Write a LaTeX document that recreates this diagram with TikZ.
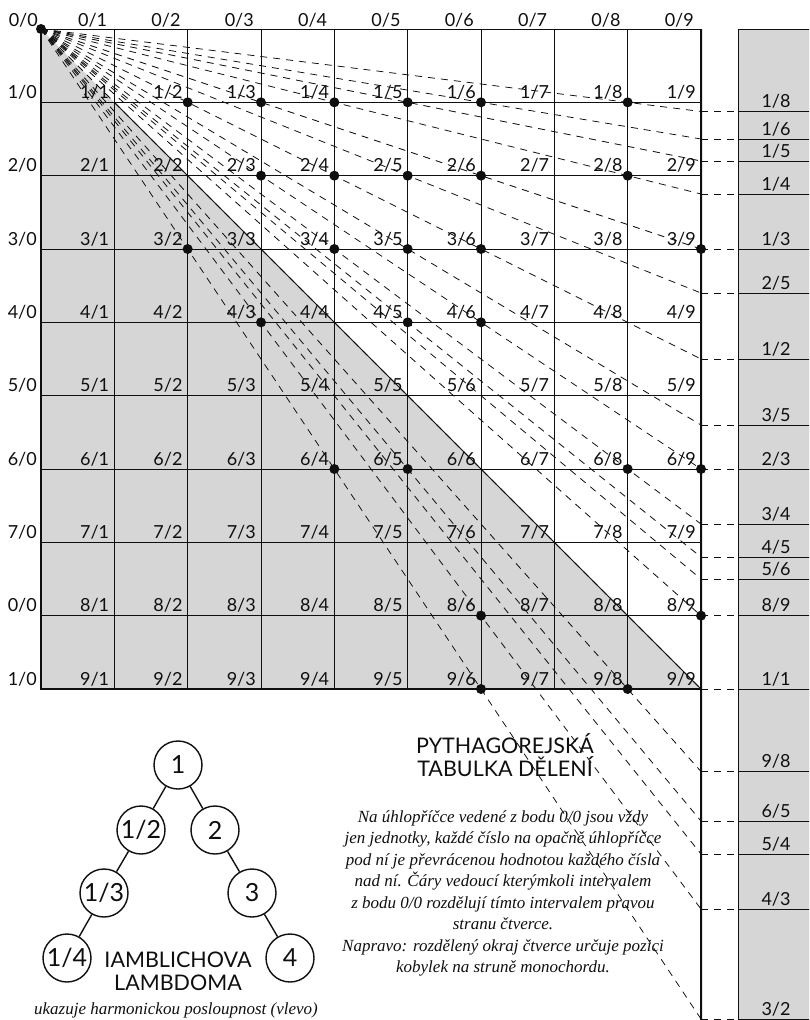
\documentclass[tikz,border=0pt]{standalone}
\usepackage{fontspec}
\setmainfont{Lato}
\newfontfamily\handfont{Liberation Serif}
\definecolor{stip}   {RGB}{214,214,214}
\definecolor{inkBlk} {RGB}{15,15,15}

\begin{document}
\begin{tikzpicture}[x=1pt, y=-1pt, inkBlk,
    GRID/.style={line width=1pt}, EDGEW/.style={line width=2pt},
    RAY/.style={dash pattern=on 7pt off 6pt, line width=0.8pt},
    LBL/.style={anchor=base east, inner sep=0pt, font=\fontsize{18}{18}\selectfont},
    PLBL/.style={anchor=base, inner sep=0pt, font=\fontsize{18}{18}\selectfont},
    NUM/.style={draw, circle, line width=1.4pt, minimum size=48pt, inner sep=0pt, font=\fontsize{25}{25}\selectfont},
    TTL/.style={anchor=base, inner sep=0pt, font=\fontsize{21.5}{24}\selectfont},
    BODY/.style={align=center, inner sep=0pt, font=\handfont\itshape\fontsize{17}{21.5}\selectfont}]
    \clip (0,0) rectangle (809,1020);
    % grid points
    \foreach \r in {0,...,9} \foreach \c in {0,...,9} \coordinate (g\r\c) at ({41+73.333*\c},{29+73.333*\r});
    \coordinate (O) at (g00); \coordinate (bot) at (701,1020);
    % shaded half and monochord strip
    \fill[stip] (g00) -- (g90) -- (g99) -- cycle;
    \fill[stip] (738,29) rectangle (815,1025); \draw[GRID] (815,29) -- (738,29) -- (738,1025);
    % table
    \foreach \i in {0,...,9} {\draw[GRID] (g0\i) -- (g9\i); \draw[GRID] (g\i0) -- (g\i9);}
    \draw[EDGEW] (g00) -- (g90) -- (g99); \draw[EDGEW] (g09) -- (bot);
    \draw[GRID] (g11) -- (g99);
    % rays from 0/0 and string divisions
    \foreach \n/\d in {1/8,1/6,1/5,1/4,1/3,2/5,1/2,3/5,2/3,3/4,4/5,5/6,8/9,1/1,9/8,6/5,5/4,4/3,3/2} {
        \coordinate (e\n\d) at (701,{29+660*\n/\d}); \coordinate (p\n\d) at (738,{29+660*\n/\d}); \coordinate (q\n\d) at (815,{29+660*\n/\d});
        \draw[RAY] (O) -- (e\n\d); \draw[RAY] (e\n\d) -- (p\n\d); \draw[GRID] (p\n\d) -- (q\n\d);
        \node[PLBL] (f\n\d) at (776,{25+660*\n/\d}) {\n/\d};
    }
    \foreach \p in {00,12,13,14,15,16,18,23,24,25,26,28,32,34,35,36,39,43,45,46,64,65,68,69,86,89,96,98} \fill (g\p) circle (5pt);
    % labels
    \node[LBL] (t0) at (38,26) {0/0};
    \foreach \c in {1,...,9} \node[LBL, xshift=-7pt, yshift=3pt] (t\c) at (g0\c) {0/\c};
    \foreach \r/\k in {1/1,2/2,3/3,4/4,5/5,6/6,7/7,8/0,9/1} \node[LBL, xshift=-4pt, yshift=4pt] (s\r) at (g\r0) {\k/0};
    \foreach \r in {1,...,9} \foreach \c in {1,...,9} \node[LBL, xshift=-5pt, yshift=4pt] (l\r\c) at (g\r\c) {\r/\c};
    % title and text
    \node[TTL] (ttl1) at (505,753) {PYTHAGOREJSKÁ};
    \node[TTL] (ttl2) at (505,776) {TABULKA DĚLENÍ};
    \node[BODY, anchor=north] (txt) at (503,810) {Na úhlopříčce vedené z bodu 0/0 jsou vždy\\jen jednotky, každé číslo na opačně úhlopříčce\\pod ní je převrácenou hodnotou každého čísla\\nad ní. Čáry vedoucí kterýmkoli intervalem\\z bodu 0/0 rozdělují tímto intervalem pravou\\stranu čtverce.\\Napravo: rozdělený okraj čtverce určuje pozici\\kobylek na struně monochordu.};
    % lambdoma
    \node[NUM] (n1) at (178,765) {1};
    \node[NUM] (nh) at (141,830) {1/2}; \node[NUM] (n2) at (215,830) {2};
    \node[NUM] (nt) at (104,893) {1/3}; \node[NUM] (n3) at (252,893) {3};
    \node[NUM] (nq) at (67,958) {1/4};  \node[NUM] (n4) at (290,958) {4};
    \draw[line width=1.4pt] (n1) -- (nh) -- (nt) -- (nq); \draw[line width=1.4pt] (n1) -- (n2) -- (n3) -- (n4);
    \node[TTL] (lam1) at (178,967) {IAMBLICHOVA};
    \node[TTL] (lam2) at (178,990) {LAMBDOMA};
    \node[BODY, anchor=base] (sub) at (176,1014) {ukazuje harmonickou posloupnost (vlevo)};
\end{tikzpicture}
\end{document}
